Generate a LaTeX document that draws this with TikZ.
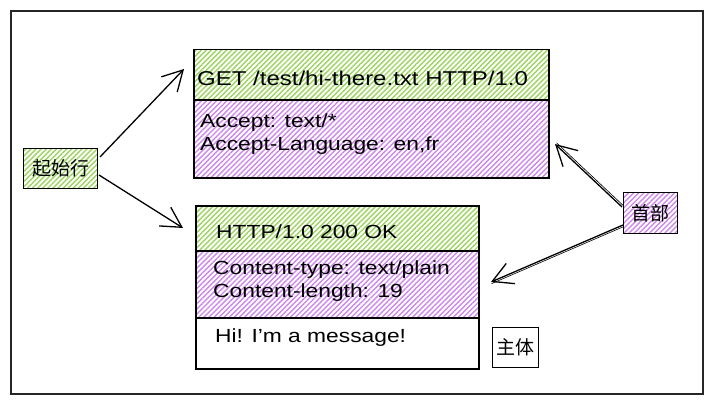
\documentclass[tikz,border=0pt]{standalone}
\usepackage{fontspec}
\setmainfont{Liberation Sans}[FakeStretch=1.2]
\newfontfamily\cjk{Noto Sans CJK SC}
\usetikzlibrary{arrows.meta,patterns.meta}
\definecolor{hg}{RGB}{155,212,95}
\definecolor{hp}{RGB}{205,135,235}
\begin{document}
\begin{tikzpicture}[x=1pt,y=-1pt,
  box/.style={draw=black,line width=1.6pt,inner sep=0pt,anchor=north west},
  gbox/.style={box,pattern={Lines[angle=45,distance=3.6pt,line width=1.4pt]},pattern color=hg},
  pbox/.style={box,pattern={Lines[angle=45,distance=3.6pt,line width=1.4pt]},pattern color=hp},
  txt/.style={anchor=base west,inner sep=0pt,font=\fontsize{19}{22}\selectfont},
  cj/.style={font=\cjk\fontsize{19}{22}\selectfont},
  arr/.style={-{Straight Barb[length=20pt,width=22pt,line width=1.3pt]},line width=1.3pt}
]
\path[use as bounding box] (0,0) rectangle (711,404);
\node[draw=black!85,line width=1.6pt,inner sep=0pt,anchor=north west,minimum width=692pt,minimum height=383pt] (frame) at (10,10) {};
% request
\node[gbox,minimum width=355pt,minimum height=50pt] (gA) at (193,49) {};
\node[pbox,minimum width=355pt,minimum height=78pt] (pA) at (193,99) {};
% response
\node[gbox,minimum width=283pt,minimum height=45pt] (gB) at (195,205) {};
\node[pbox,minimum width=283pt,minimum height=67pt] (pB) at (195,250) {};
\node[box,minimum width=283pt,minimum height=51pt] (wB) at (195,317) {};
% labels
\node[gbox,line width=1.2pt,cj,minimum width=74pt,minimum height=40pt] (qs) at (23,148) {起始行};
\node[pbox,line width=1.2pt,cj,minimum width=54pt,minimum height=41pt] (sb) at (623,192) {首部};
\node[box,line width=1pt,cj,minimum width=46pt,minimum height=40pt] (zt) at (492,327) {主体};
% texts
\node[txt,font=\fontsize{20}{22}\selectfont] (t1) at (197,85) {GET /test/hi-there.txt HTTP/1.0};
\node[txt] (t2) at (200,127) {Accept: text/*};
\node[txt] (t3) at (200,150) {Accept-Language: en,fr};
\node[txt] (t4) at (216,238) {HTTP/1.0 200 OK};
\node[txt] (t5) at (213,274) {Content-type: text/plain};
\node[txt] (t6) at (213,297) {Content-length: 19};
\node[txt] (t7) at (215,342) {Hi! I'm a message!};
% connector ends
\coordinate (a1s) at (100,157); \coordinate (a1e) at (184,69);
\coordinate (a2s) at (99,175);  \coordinate (a2e) at (183,228);
\coordinate (a3s) at (622,207); \coordinate (a3e) at (555,144);
\coordinate (a4s) at (623,225); \coordinate (a4e) at (491,282);
\draw[arr] (a1s) -- (a1e);
\draw[arr] (a2s) -- (a2e);
\draw[arr] (a3s) -- (a3e);
\draw[line width=0.6pt] ([shift={(1.5,-1.2)}]a3s) -- ([shift={(1.5,-1.2)}]a3e);
\draw[arr] (a4s) -- (a4e);
\draw[line width=0.6pt] ([shift={(0.6,1.6)}]a4s) -- ([shift={(0.6,1.6)}]a4e);
\end{tikzpicture}
\end{document}
